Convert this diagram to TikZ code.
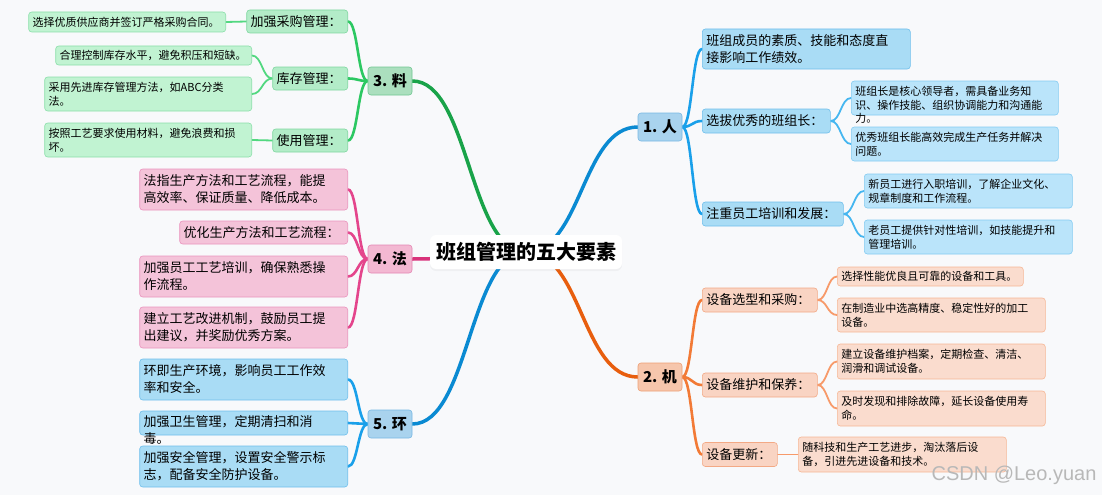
\documentclass[tikz,border=0pt]{standalone}
\usepackage{fontspec}
\setmainfont{Noto Sans CJK SC}
\newfontfamily\markfont{Liberation Sans}
\usetikzlibrary{calc,backgrounds,shadows}

\definecolor{bgpaper}{HTML}{F8F9FB}
\definecolor{markgray}{HTML}{B8B8B8}
% 人 / 环
\definecolor{renline}{HTML}{0A8AD2}
\definecolor{renlinetwo}{HTML}{1AA0EA}
\definecolor{renlinethree}{HTML}{45B6F0}
\definecolor{renfill}{HTML}{A9D3EE}
\definecolor{rendraw}{HTML}{78B8E3}
\definecolor{renfilltwo}{HTML}{A9DCF5}
\definecolor{rendrawtwo}{HTML}{6FBFEC}
\definecolor{renfillthree}{HTML}{BAE4FA}
\definecolor{rendrawthree}{HTML}{84CBF2}
% 机
\definecolor{jiline}{HTML}{E85E0E}
\definecolor{jilinetwo}{HTML}{F27A36}
\definecolor{jilinethree}{HTML}{F79A6A}
\definecolor{jifill}{HTML}{F6C6AC}
\definecolor{jidraw}{HTML}{EE9F74}
\definecolor{jifilltwo}{HTML}{F9D4C3}
\definecolor{jidrawtwo}{HTML}{F3A985}
\definecolor{jifillthree}{HTML}{FADCCE}
\definecolor{jidrawthree}{HTML}{F6B795}
% 料
\definecolor{liaoline}{HTML}{19A349}
\definecolor{liaolinetwo}{HTML}{2CC862}
\definecolor{liaolinethree}{HTML}{52D880}
\definecolor{liaofill}{HTML}{ABDFBE}
\definecolor{liaodraw}{HTML}{70C791}
\definecolor{liaofilltwo}{HTML}{B3ECC8}
\definecolor{liaodrawtwo}{HTML}{7FD7A0}
\definecolor{liaofillthree}{HTML}{C1F3D2}
\definecolor{liaodrawthree}{HTML}{8BDFAA}
% 法
\definecolor{faline}{HTML}{D8327A}
\definecolor{falinetwo}{HTML}{E4458C}
\definecolor{fafill}{HTML}{F3B8D2}
\definecolor{fadraw}{HTML}{E487B3}
\definecolor{fafilltwo}{HTML}{F4C3D9}
\definecolor{fadrawtwo}{HTML}{EA93BD}

\begin{document}
\begin{tikzpicture}[x=1pt, y=1pt,
    box/.style={draw, rounded corners=3pt, line width=0.6pt, inner xsep=4pt, inner ysep=2pt, align=left},
    lone/.style={box, font=\fontsize{15}{18}\selectfont\bfseries, minimum width=44pt, minimum height=28pt, align=center, inner xsep=2pt},
    ltwo/.style={box, font=\fontsize{13}{17}\selectfont, minimum height=24pt},
    lthree/.style={box, font=\fontsize{11}{14}\selectfont, minimum height=20pt},
    curvy/.style={to path={let \p1=(\tikztostart), \p2=(\tikztotarget) in
        .. controls ({(\x1+\x2)/2},\y1) and ({(\x1+\x2)/2},\y2) .. (\tikztotarget)}},
    trunkline/.style={line width=3.5pt, line cap=round, every edge/.append style={curvy}},
    boughline/.style={line width=2.6pt, line cap=round, every edge/.append style={curvy}},
    twigline/.style={line width=1.8pt, line cap=round, every edge/.append style={curvy}}]
    \useasboundingbox (0,0) rectangle (1102,-495);

    % root and the five elements
    \node [fill=white, rounded corners=6pt, minimum width=192pt, minimum height=34pt,
        font=\fontsize{20}{24}\selectfont\bfseries,
        drop shadow={opacity=0.07, shadow xshift=0pt, shadow yshift=-2pt}] (root) at (526,-252) {班组管理的五大要素};
    \node [lone, fill=renfill, draw=rendraw] (ren) at (660,-127) {1. 人};
    \node [lone, fill=jifill, draw=jidraw] (ji) at (660,-377) {2. 机};
    \node [lone, fill=liaofill, draw=liaodraw] (liao) at (390,-81) {3. 料};
    \node [lone, fill=fafill, draw=fadraw] (fa) at (390,-259) {4. 法};
    \node [lone, fill=renfill, draw=rendraw] (huan) at (390,-424) {5. 环};

    % 1. 人
    \node [ltwo, fill=renfilltwo, draw=rendrawtwo, anchor=west, text width=200pt, minimum height=40pt] (ren1) at (702,-49) {班组成员的素质、技能和态度直\\接影响工作绩效。};
    \node [ltwo, fill=renfilltwo, draw=rendrawtwo, anchor=west, text width=120pt] (ren2) at (702,-121) {选拔优秀的班组长：};
    \node [ltwo, fill=renfilltwo, draw=rendrawtwo, anchor=west, text width=133pt] (ren3) at (702,-214) {注重员工培训和发展：};
    \node [lthree, fill=renfillthree, draw=rendrawthree, anchor=west, text width=199pt, minimum height=34pt, text height=9pt, text depth=15pt] (ren21) at (851,-98) {班组长是核心领导者，需具备业务知\\识、操作技能、组织协调能力和沟通能\\力。};
    \node [lthree, fill=renfillthree, draw=rendrawthree, anchor=west, text width=199pt, minimum height=34pt] (ren22) at (851,-144) {优秀班组长能高效完成生产任务并解决\\问题。};
    \node [lthree, fill=renfillthree, draw=rendrawthree, anchor=west, text width=200pt, minimum height=34pt] (ren31) at (864,-191) {新员工进行入职培训，了解企业文化、\\规章制度和工作流程。};
    \node [lthree, fill=renfillthree, draw=rendrawthree, anchor=west, text width=200pt, minimum height=34pt] (ren32) at (864,-237) {老员工提供针对性培训，如技能提升和\\管理培训。};

    % 2. 机
    \node [ltwo, fill=jifilltwo, draw=jidrawtwo, anchor=west, text width=107pt] (ji1) at (702,-300) {设备选型和采购：};
    \node [ltwo, fill=jifilltwo, draw=jidrawtwo, anchor=west, text width=107pt] (ji2) at (702,-385) {设备维护和保养：};
    \node [ltwo, fill=jifilltwo, draw=jidrawtwo, anchor=west, text width=67pt] (ji3) at (702,-454.5) {设备更新：};
    \node [lthree, fill=jifillthree, draw=jidrawthree, anchor=west, text width=178pt, minimum height=19pt] (ji11) at (837,-276.5) {选择性能优良且可靠的设备和工具。};
    \node [lthree, fill=jifillthree, draw=jidrawthree, anchor=west, text width=200pt, minimum height=34pt] (ji12) at (837,-315) {在制造业中选高精度、稳定性好的加工\\设备。};
    \node [lthree, fill=jifillthree, draw=jidrawthree, anchor=west, text width=200pt, minimum height=35pt] (ji21) at (837,-361.5) {建立设备维护档案，定期检查、清洁、\\润滑和调试设备。};
    \node [lthree, fill=jifillthree, draw=jidrawthree, anchor=west, text width=200pt, minimum height=35pt] (ji22) at (837,-408.5) {及时发现和排除故障，延长设备使用寿\\命。};
    \node [lthree, fill=jifillthree, draw=jidrawthree, anchor=west, text width=200pt, minimum height=35pt] (ji31) at (798,-454.5) {随科技和生产工艺进步，淘汰落后设\\备，引进先进设备和技术。};

    % 3. 料
    \node [ltwo, fill=liaofilltwo, draw=liaodrawtwo, anchor=east, text width=93pt, minimum height=23pt] (liao1) at (348,-21.5) {加强采购管理：};
    \node [ltwo, fill=liaofilltwo, draw=liaodrawtwo, anchor=east, text width=67pt, minimum height=23pt] (liao2) at (348,-78.5) {库存管理：};
    \node [ltwo, fill=liaofilltwo, draw=liaodrawtwo, anchor=east, text width=67pt, minimum height=23pt] (liao3) at (348,-140.5) {使用管理：};
    \node [lthree, fill=liaofillthree, draw=liaodrawthree, anchor=east, text width=189pt] (liao11) at (226,-22) {选择优质供应商并签订严格采购合同。};
    \node [lthree, fill=liaofillthree, draw=liaodrawthree, anchor=east, text width=188pt, minimum height=19pt] (liao21) at (252,-55.5) {合理控制库存水平，避免积压和短缺。};
    \node [lthree, fill=liaofillthree, draw=liaodrawthree, anchor=east, text width=199pt, minimum height=34pt] (liao22) at (252,-94) {采用先进库存管理方法，如ABC分类\\法。};
    \node [lthree, fill=liaofillthree, draw=liaodrawthree, anchor=east, text width=199pt, minimum height=34pt] (liao31) at (252,-140) {按照工艺要求使用材料，避免浪费和损\\坏。};

    % 4. 法
    \node [ltwo, fill=fafilltwo, draw=fadrawtwo, anchor=east, text width=200pt, minimum height=41pt] (fa1) at (348,-189.5) {法指生产方法和工艺流程，能提\\高效率、保证质量、降低成本。};
    \node [ltwo, fill=fafilltwo, draw=fadrawtwo, anchor=east, text width=160pt, minimum height=23pt] (fa2) at (348,-232.5) {优化生产方法和工艺流程：};
    \node [ltwo, fill=fafilltwo, draw=fadrawtwo, anchor=east, text width=200pt, minimum height=41pt] (fa3) at (348,-276.5) {加强员工工艺培训，确保熟悉操\\作流程。};
    \node [ltwo, fill=fafilltwo, draw=fadrawtwo, anchor=east, text width=200pt, minimum height=41pt] (fa4) at (348,-327.5) {建立工艺改进机制，鼓励员工提\\出建议，并奖励优秀方案。};

    % 5. 环
    \node [ltwo, fill=renfilltwo, draw=rendrawtwo, anchor=east, text width=200pt, minimum height=41pt] (huan1) at (348,-379.5) {环即生产环境，影响员工工作效\\率和安全。};
    \node [ltwo, fill=renfilltwo, draw=rendrawtwo, anchor=east, text width=200pt, text height=10pt, text depth=3pt] (huan2) at (348,-423) {加强卫生管理，定期清扫和消\\毒。};
    \node [ltwo, fill=renfilltwo, draw=rendrawtwo, anchor=east, text width=200pt, minimum height=41pt] (huan3) at (348,-466.5) {加强安全管理，设置安全警示标\\志，配备安全防护设备。};

    \node [font=\markfont\fontsize{20}{24}\selectfont, text=markgray] (mark) at (1014,-475) {CSDN @Leo.yuan};

    \begin{scope}[on background layer]
    \fill [bgpaper] (0,0) rectangle (1102,-495);
    % root to the five elements
    \path [trunkline, renline] (root.center) edge (ren.west);
    \path [trunkline, jiline] (root.center) edge (ji.west);
    \path [trunkline, liaoline] (root.center) edge (liao.east);
    \path [trunkline, faline] (root.center) edge (fa.east);
    \path [trunkline, renline] (root.center) edge (huan.east);
    % second level
    \path [boughline, renlinetwo] (ren.east) edge (ren1.west) edge (ren2.west) edge (ren3.west);
    \path [boughline, jilinetwo] (ji.east) edge (ji1.west) edge (ji2.west) edge (ji3.west);
    \path [boughline, liaolinetwo] (liao.west) edge (liao1.east) edge (liao2.east) edge (liao3.east);
    \path [boughline, falinetwo] (fa.west) edge (fa1.east) edge (fa2.east) edge (fa3.east) edge (fa4.east);
    \path [boughline, renlinetwo] (huan.west) edge (huan1.east) edge (huan2.east) edge (huan3.east);
    % third level
    \path [twigline, renlinethree] (ren2.east) edge (ren21.west) edge (ren22.west);
    \path [twigline, renlinethree] (ren3.east) edge (ren31.west) edge (ren32.west);
    \path [twigline, jilinethree] (ji1.east) edge (ji11.west) edge (ji12.west);
    \path [twigline, jilinethree] (ji2.east) edge (ji21.west) edge (ji22.west);
    \path [twigline, jilinethree] (ji3.east) edge (ji31.west);
    \path [twigline, liaolinethree] (liao1.west) edge (liao11.east);
    \path [twigline, liaolinethree] (liao2.west) edge (liao21.east) edge (liao22.east);
    \path [twigline, liaolinethree] (liao3.west) edge (liao31.east);
    \end{scope}
\end{tikzpicture}
\end{document}
